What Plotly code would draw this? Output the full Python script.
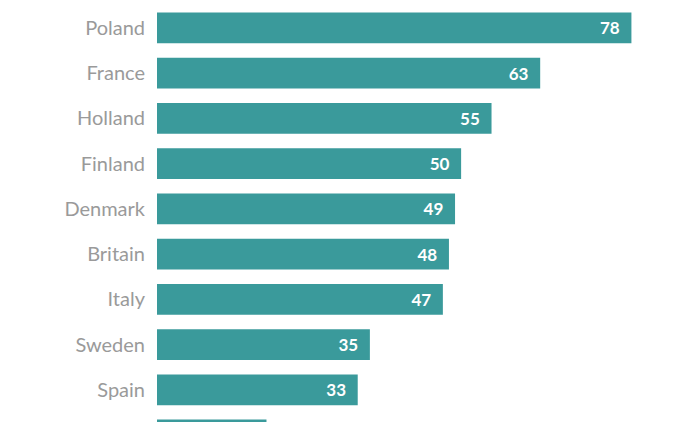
import plotly.graph_objects as go

# DATA
countries = ["Poland", "France", "Holland", "Finland", "Denmark",
             "Britain", "Italy", "Sweden", "Spain", "Portugal"]
values = [78, 63, 55, 50, 49, 48, 47, 35, 33, 18]

BAR_COLOR = "#3a9a9b"

fig = go.Figure(
    go.Bar(
        x=values,
        y=countries,
        orientation="h",
        marker=dict(color=BAR_COLOR, line=dict(width=0)),
        width=0.68,
        text=values,
        textposition="inside",
        insidetextanchor="end",
        texttemplate="<b>%{text}</b>\u00a0\u00a0",
        textfont=dict(color="white", size=17, family="Lato"),
        cliponaxis=True,
    )
)

# the page body adds 8px around the figure, margins are set with that in mind
fig.update_layout(
    width=700,
    height=422,
    margin=dict(l=149, r=34, t=0, b=0, pad=0),
    paper_bgcolor="white",
    plot_bgcolor="white",
    showlegend=False,
    font=dict(family="Lato", color="#999999"),
)

fig.update_xaxes(
    range=[0, 85],
    showgrid=False,
    zeroline=False,
    showticklabels=False,
    showline=False,
    automargin=False,
)

fig.update_yaxes(
    categoryorder="array",
    categoryarray=countries,
    range=[8.89, -0.442],
    showgrid=False,
    zeroline=False,
    showline=False,
    ticks="",
    automargin=False,
    ticklabelstandoff=11,
    tickfont=dict(size=20, color="#9a9a9a", family="Lato"),
)

fig.write_html("out.html")
